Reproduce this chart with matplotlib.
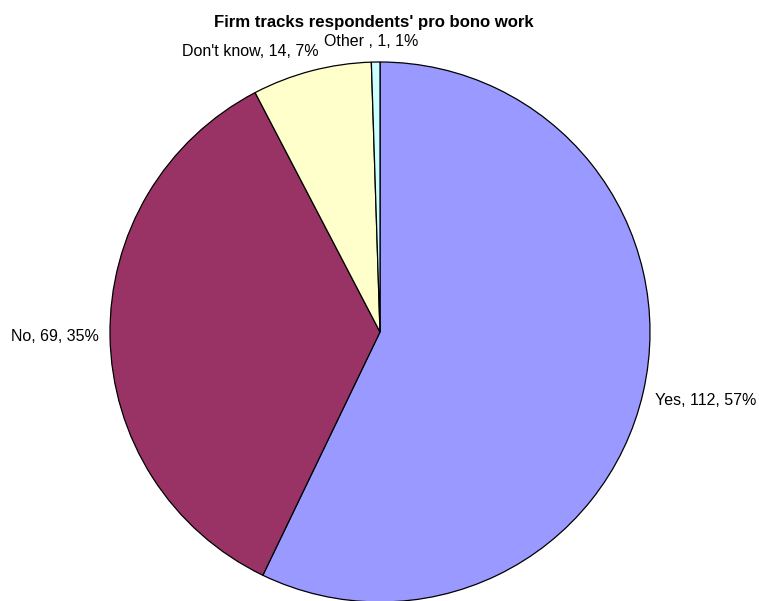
import numpy as np
import matplotlib.pyplot as plt

plt.rcParams['font.family'] = ['Liberation Sans', 'DejaVu Sans']

# datos del gráfico
categorias = ["Yes", "No", "Don't know", "Other "]
valores = [112, 69, 14, 1]
colores = ["#9999FF", "#993366", "#FFFFCC", "#CCFFFF"]

total = sum(valores)
etiquetas = [f"{c}, {v}, {round(v / total * 100):.0f}%" for c, v in zip(categorias, valores)]

fig = plt.figure(figsize=(7.59, 6.01), dpi=100)
ax = fig.add_axes([110 / 759, -1 / 601, 540 / 759, 540 / 601])

wedges, textos = ax.pie(
    valores,
    colors=colores,
    startangle=90,
    counterclock=False,
    labels=etiquetas,
    labeldistance=1.05,
    wedgeprops=dict(edgecolor="black", linewidth=0.9),
    textprops=dict(fontsize=11.5),
)
for w in wedges:
    w.set_clip_on(False)

# ajustes de etiquetas (estilo Excel)
x, y = textos[0].get_position()
textos[0].set_position((x - 0.005, y - 0.02))
x, y = textos[1].get_position()
textos[1].set_position((x + 0.008, y))
x, y = textos[2].get_position()
textos[2].set_position((x + 0.04, y + 0.025))
t = textos[3]
x, y = t.get_position()
t.set_position((x - 0.017, y + 0.025))
t.set_ha("center")

ax.set_xlim(-1, 1)
ax.set_ylim(-1, 1)
ax.axis("off")

fig.text(374 / 759, 1 - 22 / 601, "Firm tracks respondents' pro bono work",
         ha="center", va="center", fontsize=12.1, fontweight="bold")

plt.savefig("out.png", dpi=100)
plt.close()
